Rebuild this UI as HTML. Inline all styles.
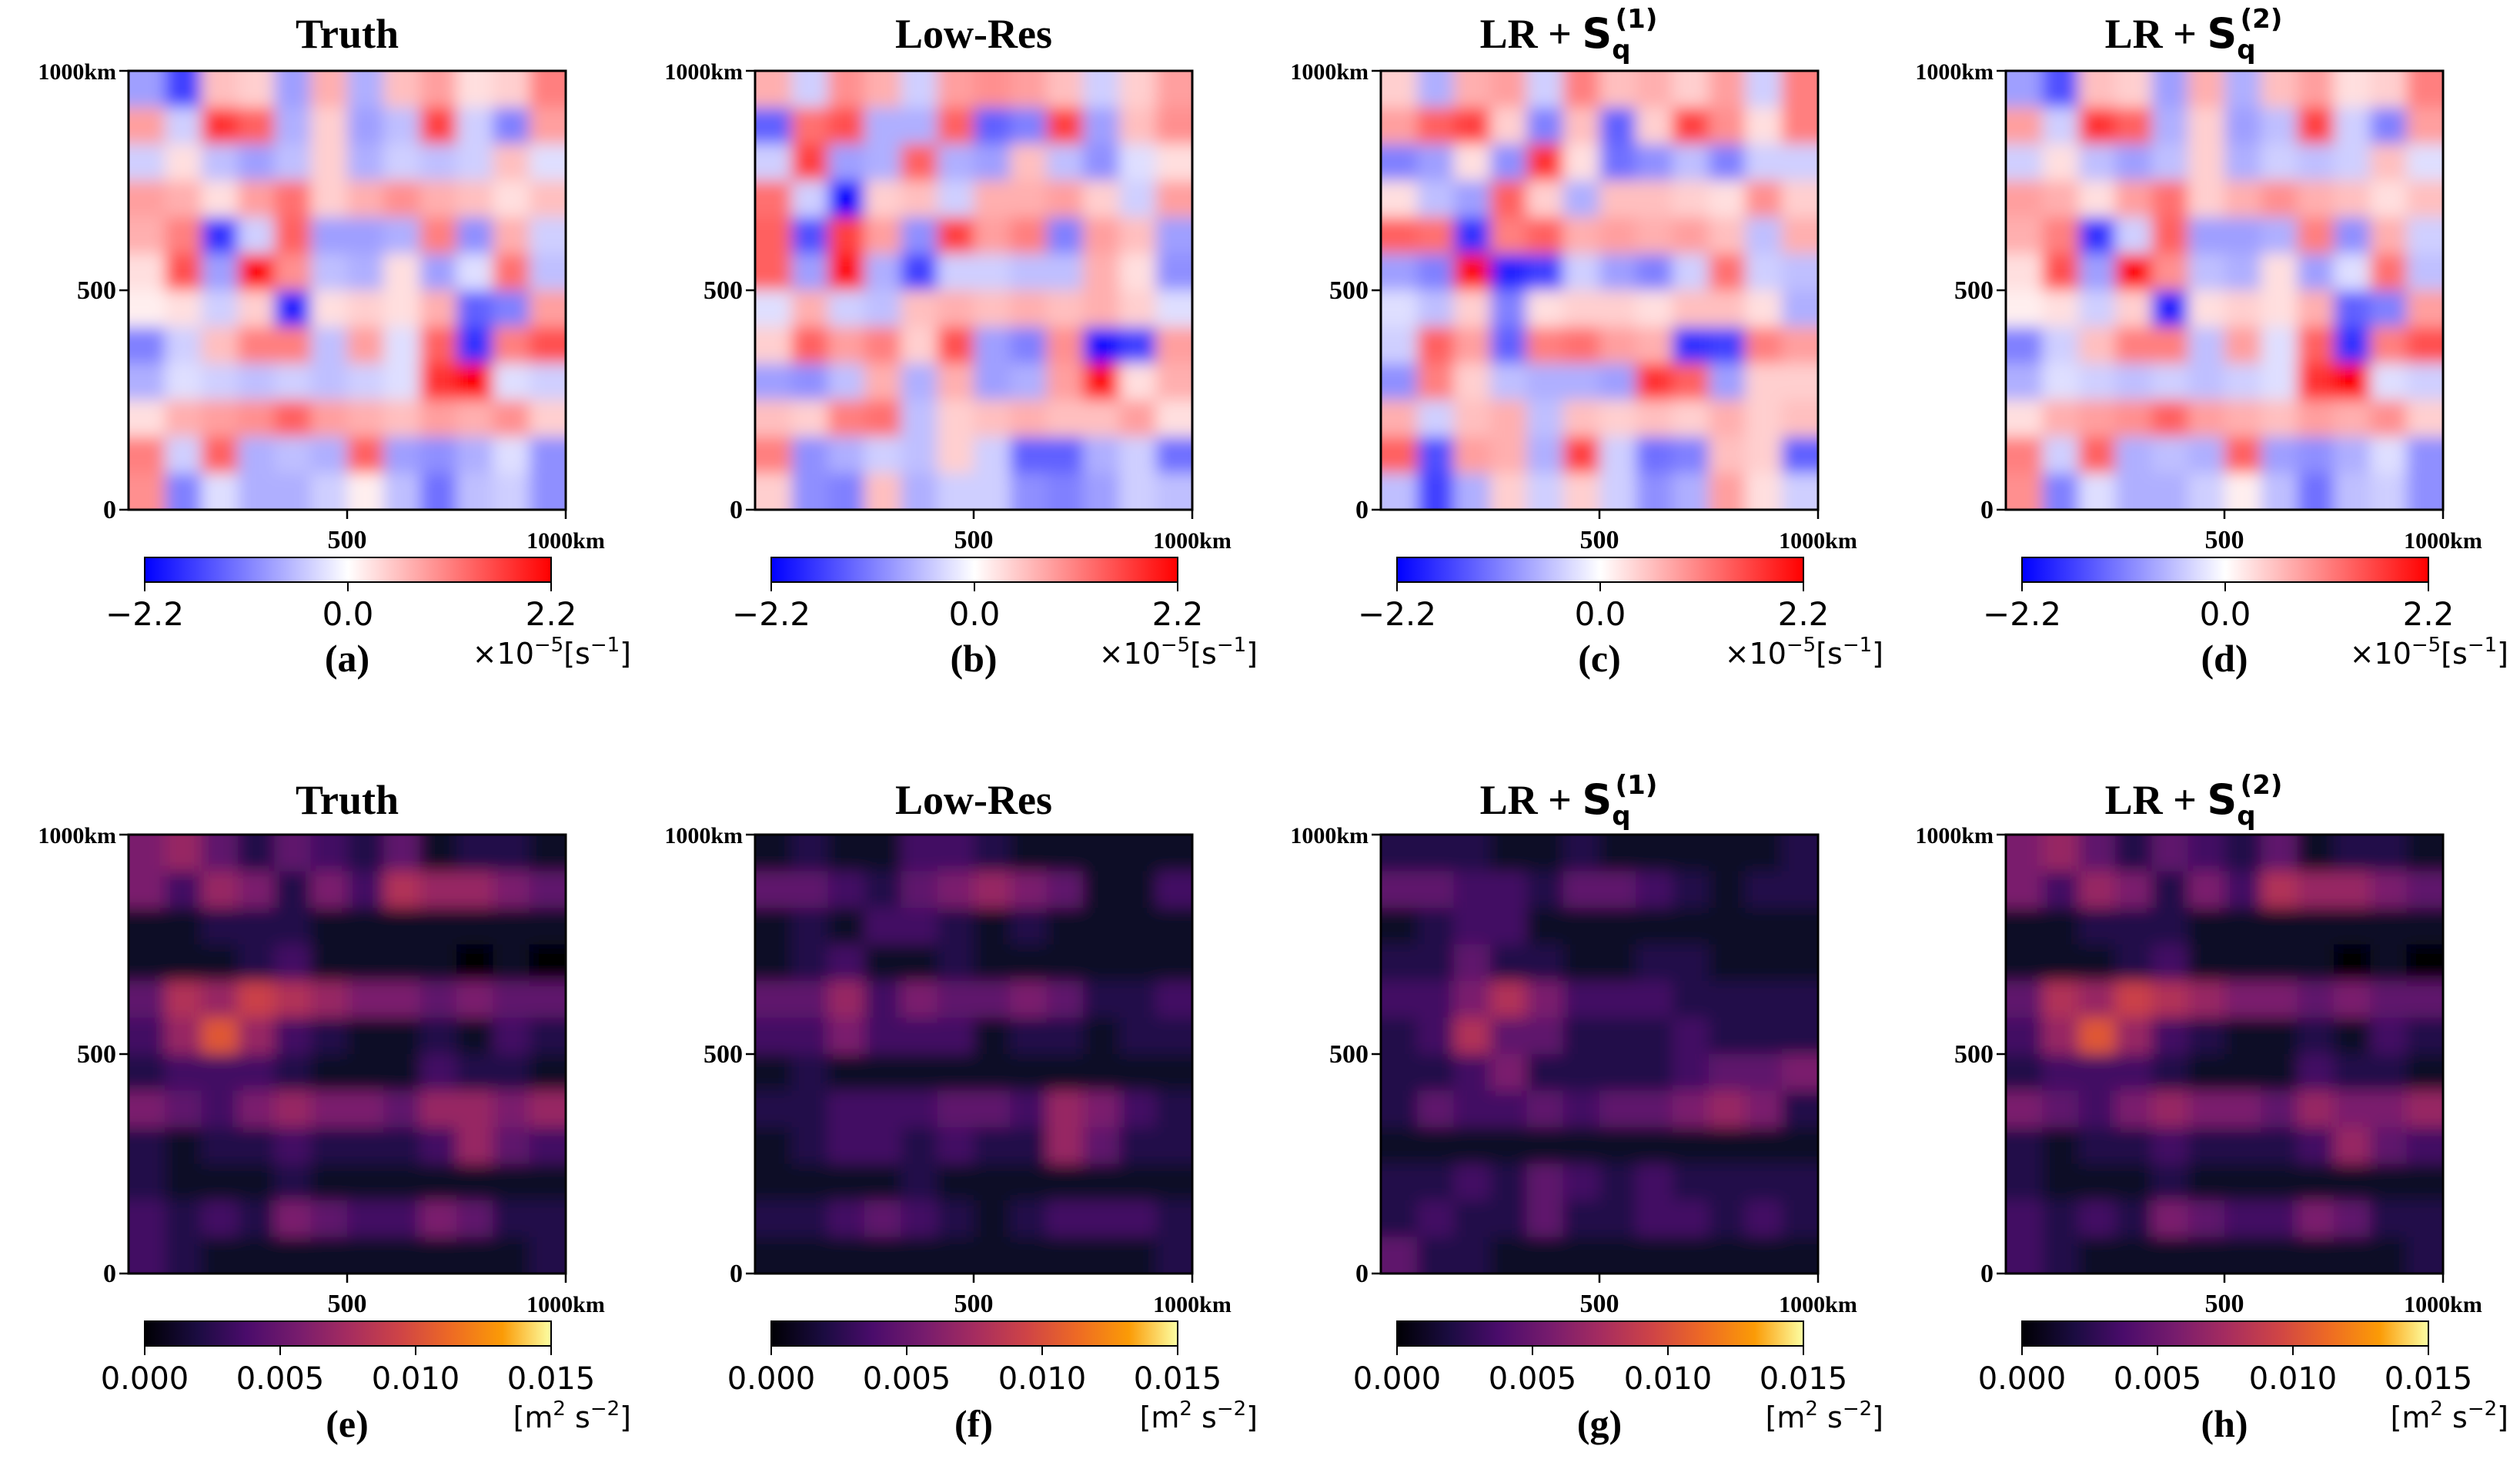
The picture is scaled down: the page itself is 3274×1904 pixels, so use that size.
<!DOCTYPE html>
<html><head><meta charset="utf-8">
<style>
html,body{margin:0;padding:0;background:#fff;}
svg{display:block;}
.tt{font-family:"Liberation Serif",serif;font-weight:bold;}
.sn{font-family:"DejaVu Sans","Liberation Sans",sans-serif;}
</style></head>
<body>
<svg id="fig" width="3274" height="1904" viewBox="0 0 3274 1904" xmlns="http://www.w3.org/2000/svg">
<defs>
<filter id="blur" x="-10%" y="-10%" width="120%" height="120%"><feGaussianBlur stdDeviation="10"/></filter>
<linearGradient id="gbwr" x1="0" x2="1" y1="0" y2="0"><stop offset="0" stop-color="#0000ff"/><stop offset="0.5" stop-color="#ffffff"/><stop offset="1" stop-color="#ff0000"/></linearGradient>
<linearGradient id="ginf" x1="0" x2="1" y1="0" y2="0"><stop offset="0" stop-color="#000004"/><stop offset="0.13" stop-color="#1b0c41"/><stop offset="0.25" stop-color="#4a0c6b"/><stop offset="0.38" stop-color="#781c6d"/><stop offset="0.5" stop-color="#a52c60"/><stop offset="0.63" stop-color="#cf4446"/><stop offset="0.75" stop-color="#ed6925"/><stop offset="0.88" stop-color="#fb9b06"/><stop offset="1" stop-color="#fcffa4"/></linearGradient>
</defs>
</svg>
<script>
// ---- data (12x12 coarse fields, rows top->bottom) ----
const vortTruth = [
[-0.6,-1.2,0.4,0.3,-0.6,0.5,-0.5,0.4,0.6,0.2,0.3,0.8],
[0.6,-0.3,1.3,1.0,-0.5,0.3,-0.6,-0.4,1.2,-0.3,-0.8,0.6],
[-0.3,0.2,-0.4,-0.6,-0.4,0.3,-0.5,-0.3,-0.4,-0.3,0.4,-0.2],
[0.6,0.5,0.2,0.6,0.9,0.3,0.5,0.7,0.5,0.4,0.2,0.4],
[0.5,0.8,-1.3,-0.3,1.0,-0.6,-0.6,-0.5,0.8,-0.7,0.5,-0.3],
[0.2,1.1,-0.6,1.8,0.7,-0.4,-0.5,0.2,-0.6,-0.2,0.9,-0.4],
[0.1,0.2,-0.3,0.3,-1.4,0.2,0.3,0.2,0.5,-1.0,-0.8,0.6],
[-0.8,-0.3,0.4,0.8,0.8,-0.4,0.6,-0.2,1.0,-1.3,0.8,1.1],
[-0.5,-0.2,-0.3,-0.4,-0.3,-0.4,-0.3,-0.2,1.3,1.6,-0.2,-0.3],
[0.2,0.5,0.6,0.7,1.0,0.6,0.5,0.4,0.6,0.5,0.7,0.3],
[0.8,-0.3,1.0,-0.5,-0.4,-0.5,1.0,-0.6,-0.7,-0.5,-0.2,-0.7],
[0.7,-0.8,-0.2,-0.5,-0.5,-0.3,0.1,-0.4,-0.9,-0.4,-0.3,-0.7]];
const vortLowRes = [
[0.5,-0.3,0.7,0.5,-0.3,0.6,0.7,0.6,0.4,-0.3,0.3,0.6],
[-1.0,0.9,1.1,-0.5,-0.5,1.0,-1.0,-0.8,1.2,-0.6,0.4,0.7],
[-0.3,1.2,-0.6,-0.5,1.0,-0.5,-0.6,0.4,-0.4,-0.7,-0.2,0.2],
[0.9,-0.3,-1.8,0.3,0.4,-0.3,0.5,0.5,0.6,0.3,-0.3,0.6],
[1.0,-1.1,1.2,0.6,-0.7,1.2,0.6,0.8,-0.8,0.6,0.4,-0.6],
[1.0,-0.6,1.5,-0.5,-1.2,-0.3,-0.3,-0.4,-0.4,0.5,0.2,-0.7],
[-0.2,0.5,-0.3,-0.4,0.4,0.5,0.4,0.5,0.4,0.5,0.3,-0.2],
[0.3,1.0,0.6,0.8,0.3,1.1,-0.6,-0.8,0.7,-1.5,-1.2,0.6],
[-0.6,-0.7,-0.4,0.5,-0.5,0.5,-0.6,-0.5,0.6,1.5,0.2,0.5],
[0.4,0.3,0.8,0.9,-0.4,0.3,0.4,0.5,0.4,0.4,0.6,0.2],
[0.8,-0.7,-0.5,-0.3,-0.4,0.3,-0.3,-1.0,-1.0,-0.5,-0.3,-0.9],
[0.3,-0.7,-0.8,0.4,-0.5,-0.3,-0.3,-0.7,-0.8,-0.6,-0.3,-0.4]];
const vortS1 = [
[0.3,-0.5,0.5,0.6,-0.3,0.8,0.4,0.5,0.3,0.6,-0.3,0.8],
[0.6,1.0,1.2,0.3,-0.8,0.4,-1.0,0.3,1.2,0.7,0.2,0.8],
[-0.8,-0.6,0.2,-0.7,1.3,0.2,-0.9,-0.7,-0.4,-0.8,-0.3,-0.3],
[0.2,-0.4,-0.6,1.0,0.3,-0.5,0.4,0.4,0.3,0.2,0.7,0.3],
[1.0,0.9,-1.3,0.8,1.0,0.5,0.6,0.5,0.6,0.4,-0.4,0.5],
[-0.6,-0.8,1.5,-1.4,-1.2,-0.3,-0.6,-0.8,-0.3,0.9,-0.3,-0.4],
[-0.2,-0.4,0.3,-0.8,0.2,0.3,0.3,0.2,0.4,0.4,0.2,-0.5],
[-0.3,1.0,0.6,-1.0,0.8,0.9,0.6,0.5,-1.3,-1.2,0.8,0.6],
[-0.7,0.8,0.3,-0.4,-0.5,-0.5,-0.6,1.3,1.0,-0.6,0.3,0.3],
[0.5,-0.3,0.4,0.5,-0.4,0.4,0.3,0.4,0.3,0.5,0.3,0.4],
[1.0,-1.1,0.6,0.5,-0.5,1.2,-0.3,-0.9,-0.8,0.4,0.3,-1.0],
[-0.4,-1.2,-0.5,0.3,-0.3,0.3,-0.3,-0.7,-0.5,0.6,0.2,-0.3]];
const vortS2 = [
[-0.6,-1.1,0.4,0.3,-0.6,0.5,-0.5,0.4,0.6,0.2,0.3,0.8],
[0.6,-0.3,1.3,1.0,-0.5,0.3,-0.6,-0.4,1.2,-0.3,-0.8,0.6],
[-0.3,0.2,-0.4,-0.6,-0.4,0.3,-0.5,-0.3,-0.4,-0.3,0.4,-0.2],
[0.6,0.5,0.2,0.6,0.9,0.3,0.5,0.7,0.5,0.4,0.2,0.4],
[0.5,0.8,-1.3,-0.3,1.0,-0.6,-0.6,-0.5,0.8,-0.7,0.5,-0.3],
[0.2,1.1,-0.6,1.8,0.7,-0.4,-0.5,0.2,-0.6,-0.2,0.9,-0.4],
[0.1,0.2,-0.3,0.3,-1.4,0.2,0.3,0.2,0.5,-1.0,-0.8,0.6],
[-0.8,-0.3,0.4,0.8,0.8,-0.4,0.6,-0.2,1.0,-1.3,0.8,1.1],
[-0.5,-0.2,-0.3,-0.4,-0.3,-0.4,-0.3,-0.2,1.3,1.6,-0.2,-0.3],
[0.2,0.5,0.6,0.7,1.0,0.6,0.5,0.4,0.6,0.5,0.7,0.3],
[0.8,-0.3,1.0,-0.5,-0.4,-0.5,1.0,-0.6,-0.7,-0.5,-0.2,-0.7],
[0.7,-0.8,-0.2,-0.5,-0.5,-0.3,0.1,-0.4,-0.9,-0.4,-0.3,-0.7]];
// kinetic energy in units of 1e-3 m^2 s^-2
const keTruth = [
[5,6,4,2,4,3,2,4,1,2,2,1],
[5,3,6,5,2,5,3,7,6,6,5,4],
[1,1,2,2,2,1,1,1,1,1,1,1],
[1,1,1,2,3,1,1,1,1,0,1,0],
[4,7,6,8,7,6,5,5,4,5,4,4],
[3,6,9,6,3,2,1,1,2,1,3,2],
[2,3,3,3,2,1,1,1,3,2,2,1],
[5,4,3,5,6,5,5,4,6,6,5,6],
[2,1,2,2,3,2,2,2,3,6,4,3],
[2,1,1,1,2,1,1,1,1,1,1,1],
[3,2,3,2,5,4,3,3,5,4,2,2],
[3,2,1,1,1,1,1,1,1,1,1,2]];
const keLowRes = [
[1,2,1,1,3,3,2,1,1,1,1,1],
[4,4,3,2,4,5,6,5,4,1,1,3],
[1,2,1,3,3,2,1,2,1,1,1,1],
[1,2,3,1,1,2,1,1,1,1,1,1],
[4,4,6,3,5,4,4,5,4,2,2,3],
[3,3,5,3,3,3,1,2,2,1,2,2],
[1,2,1,1,1,1,1,1,1,1,1,1],
[2,2,3,3,3,4,4,3,6,5,3,2],
[1,2,3,3,2,3,2,2,6,4,2,2],
[1,1,1,1,2,1,1,1,1,1,1,1],
[2,2,3,4,3,2,1,2,3,3,3,2],
[1,1,1,1,1,1,1,1,1,1,1,2]];
const keS1 = [
[2,2,2,1,1,2,1,1,1,1,1,2],
[4,4,3,3,2,4,4,3,2,1,2,2],
[1,2,3,3,1,1,1,1,1,1,1,1],
[2,2,4,2,2,1,1,2,2,1,1,1],
[3,3,5,7,5,3,3,3,2,2,2,2],
[2,3,7,4,4,2,2,2,3,2,2,2],
[2,2,3,5,2,2,2,2,3,4,4,5],
[2,4,3,3,4,3,4,4,5,6,5,2],
[1,1,1,1,1,1,1,1,1,1,1,1],
[2,2,3,2,4,3,2,3,2,2,2,2],
[2,3,2,2,4,2,2,3,3,2,3,2],
[4,2,2,1,1,1,1,1,1,1,1,1]];
const keS2 = [
[5,6,4,2,4,3,2,4,1,2,2,1],
[5,3,6,5,2,5,3,7,6,6,5,4],
[1,1,2,2,2,1,1,1,1,1,1,1],
[1,1,1,2,3,1,1,1,1,0,1,0],
[4,7,6,8,7,6,5,5,4,5,4,4],
[3,6,9,6,3,2,1,1,2,1,3,2],
[2,3,3,3,2,1,1,1,3,2,2,1],
[5,4,3,5,6,5,5,4,6,5,5,6],
[2,1,2,2,3,2,2,2,3,6,4,3],
[2,1,1,1,2,1,1,1,1,1,1,1],
[3,2,3,2,5,4,3,3,5,4,2,2],
[3,2,1,1,1,1,1,1,1,1,1,2]];
const vortTicks = ["\u22122.2","0.0","2.2"];
const keTicks = ["0.000","0.005","0.010","0.015"];
const axisTicks = ["0","500","1000km"];
const panelLetters = ["(a)","(b)","(c)","(d)","(e)","(f)","(g)","(h)"];

// ---- rendering ----
const NS="http://www.w3.org/2000/svg";
const svg=document.getElementById('fig');
function mk(tag,attrs,parent){const e=document.createElementNS(NS,tag);for(const k in attrs)e.setAttribute(k,attrs[k]);(parent||svg).appendChild(e);return e;}
const colX=[167,981,1794,2606], PW=568, PH=570, rowY=[92,1084];
const VCOL=1.6, KCOL=13; // colour normalisation (coarse grid averages are smoother than full field)
const bwrStops=[[0,[0,0,255]],[0.5,[255,255,255]],[1,[255,0,0]]];
const infStops=[[0,[0,0,4]],[0.13,[27,12,65]],[0.25,[74,12,107]],[0.38,[120,28,109]],[0.5,[165,44,96]],[0.63,[207,68,70]],[0.75,[237,105,37]],[0.88,[251,155,6]],[1,[252,255,164]]];
function cmap(stops,t){t=Math.max(0,Math.min(1,t));for(let i=1;i<stops.length;i++){if(t<=stops[i][0]){const a=stops[i-1],b=stops[i];const f=(t-a[0])/(b[0]-a[0]);const c=a[1].map((v,k)=>Math.round(v+(b[1][k]-v)*f));return `rgb(${c[0]},${c[1]},${c[2]})`;}}const l=stops[stops.length-1][1];return `rgb(${l[0]},${l[1]},${l[2]})`;}

const panels=[
 {grid:vortTruth,kind:'v',title:'Truth'},{grid:vortLowRes,kind:'v',title:'Low-Res'},{grid:vortS1,kind:'v',title:'S1'},{grid:vortS2,kind:'v',title:'S2'},
 {grid:keTruth,kind:'k',title:'Truth'},{grid:keLowRes,kind:'k',title:'Low-Res'},{grid:keS1,kind:'k',title:'S1'},{grid:keS2,kind:'k',title:'S2'}];

panels.forEach((p,i)=>{
 const r=Math.floor(i/4), c=i%4, X=colX[c], Y=rowY[r];
 const g=mk('g',{});
 
 
 const nr=p.grid.length, nc=p.grid[0].length;
 const xs=j=>X+j*PW/nc, ys=k=>Y+k*PH/nr;
 const cw=PW/nc, ch=PH/nr, pad=40;
 const clipId='clip'+i;
 const cp=mk('clipPath',{id:clipId},g); mk('rect',{x:X,y:Y,width:PW,height:PH},cp);
 const hg=mk('g',{'clip-path':`url(#${clipId})`},g);
 const inner=mk('g',{filter:'url(#blur)'},hg);
 
 
 p.grid.forEach((row,k)=>row.forEach((v,j)=>{
  const col=p.kind==='v'?cmap(bwrStops,(v+VCOL)/(2*VCOL)):cmap(infStops,v/KCOL);
  // extend edge cells outward so blur does not fade at panel borders
  const x0=xs(j)-(j===0?pad:0), y0=ys(k)-(k===0?pad:0);
  const w=cw+1+(j===0?pad:0)+(j===nc-1?pad:0), h=ch+1+(k===0?pad:0)+(k===nr-1?pad:0);
  const cell=mk('rect',{x:x0,y:y0,width:w,height:h,fill:col},inner);
  
  
 }));
 const fr=mk('rect',{x:X,y:Y,width:PW,height:PH,fill:'none',stroke:'#000','stroke-width':3},g);
 
 
 // title
 const tb=r===0?62:1057, cx=X+PW/2;
 const t=mk('text',{x:cx,y:tb,'text-anchor':'middle','font-size':54,class:'tt'},g);
 
 
 if(p.title==='S1'||p.title==='S2'){
  const n=p.title==='S1'?'(1)':'(2)';
  t.setAttribute('x',cx-40);
  t.innerHTML=`<tspan>LR + </tspan><tspan class="sn" font-weight="bold">S</tspan><tspan class="sn" font-size="34" dy="14">q</tspan><tspan class="sn" font-size="34" dx="-20" dy="-40">${n}</tspan>`;
 } else t.textContent=p.title;
 // y ticks
 const yv=[0,500,1000];
 yv.forEach((v,k)=>{
  const yy=Y+PH-v/1000*PH;
  mk('line',{x1:X-12,x2:X,y1:yy,y2:yy,stroke:'#000','stroke-width':2.5},g);
  const lt=mk('text',{x:X-16,y:yy+11,'text-anchor':'end','font-size':k===2?30:34,class:'tt'},g);
  
  
  lt.textContent=axisTicks[k];
 });
 [500,1000].forEach((v,k)=>{
  const xx=X+v/1000*PW;
  mk('line',{x1:xx,x2:xx,y1:Y+PH,y2:Y+PH+12,stroke:'#000','stroke-width':2.5},g);
  const lt=mk('text',{x:xx,y:Y+PH+50,'text-anchor':'middle','font-size':k===1?30:34,class:'tt'},g);
  
  
  lt.textContent=axisTicks[k+1];
 });
 // colorbar
 const cbx=X+21, cbw=528, cby=r===0?724:1716, cbh=32;
 const cb=mk('rect',{x:cbx,y:cby,width:cbw,height:cbh,fill:p.kind==='v'?'url(#gbwr)':'url(#ginf)',stroke:'#000','stroke-width':2},g);
 
 
 const ticks=p.kind==='v'?vortTicks:keTicks;
 ticks.forEach((s,k)=>{
  const xx=cbx+k*cbw/(ticks.length-1);
  mk('line',{x1:xx,x2:xx,y1:cby+cbh,y2:cby+cbh+12,stroke:'#000','stroke-width':2},g);
  const lt=mk('text',{x:xx,y:cby+cbh+56,'text-anchor':'middle','font-size':p.kind==='v'?42:40,class:'sn'},g);
  
  
  lt.textContent=s;
 });
 // unit
 const u=mk('text',{x:X+PW+85,y:r===0?862:1854,'text-anchor':'end','font-size':38,class:'sn'},g);
 
 
 u.innerHTML=p.kind==='v'?'×10<tspan font-size="26" dy="-16">−5</tspan><tspan dy="16">[s</tspan><tspan font-size="26" dy="-16">−1</tspan><tspan dy="16">]</tspan>':'[m<tspan font-size="26" dy="-16">2</tspan><tspan dy="16"> s</tspan><tspan font-size="26" dy="-16">−2</tspan><tspan dy="16">]</tspan>';
 // letter
 const lt=mk('text',{x:cx,y:r===0?872:1866,'text-anchor':'middle','font-size':50,class:'tt'},g);
 
 
 lt.textContent=panelLetters[i];
});
</script>
</body></html>
